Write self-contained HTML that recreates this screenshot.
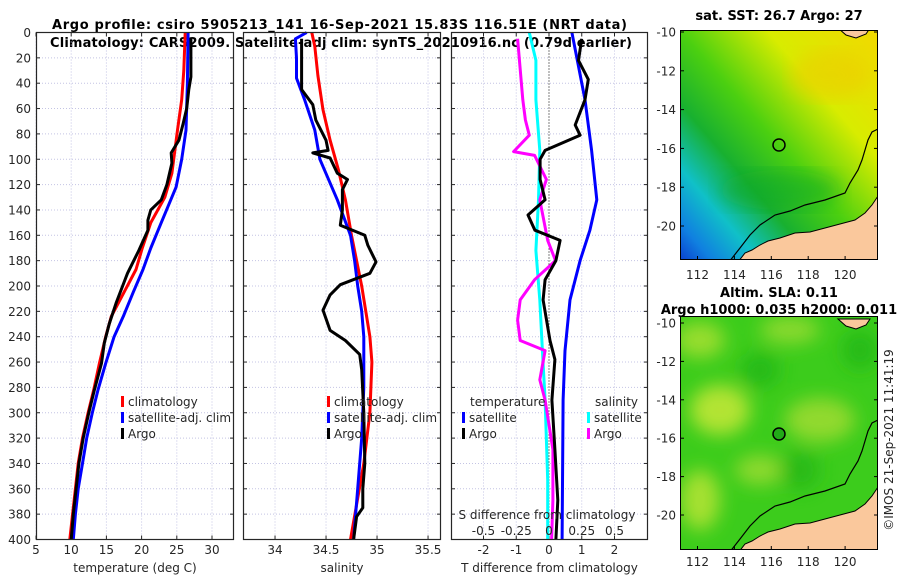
<!DOCTYPE html>
<html><head><meta charset="utf-8"><style>
body{margin:0;background:#fff;}
svg{display:block;font-family:"DejaVu Sans","Liberation Sans",sans-serif;}
.tk{font-size:12px;fill:#262626;}
.tt{font-size:13px;font-weight:bold;fill:#000;}
</style></head><body>
<svg id="c" width="900" height="580" viewBox="0 0 900 580" xmlns="http://www.w3.org/2000/svg">
<defs>
<linearGradient id="sstg" x1="1" y1="0" x2="0" y2="1">
<stop offset="0" stop-color="#f2d800"/><stop offset="0.28" stop-color="#d8ec00"/><stop offset="0.5" stop-color="#4cd010"/><stop offset="0.66" stop-color="#18b030"/><stop offset="0.8" stop-color="#10c0c8"/><stop offset="0.92" stop-color="#1080e0"/><stop offset="1" stop-color="#0a40d0"/>
</linearGradient>
<filter id="bl"><feGaussianBlur stdDeviation="9"/></filter>
<clipPath id="m1c"><rect x="680" y="30" width="198" height="230"/></clipPath>
<clipPath id="m2c"><rect x="680" y="316" width="198" height="234"/></clipPath>
</defs>
<text class="tt" x="52" y="29" textLength="575" lengthAdjust="spacing">Argo profile: csiro 5905213_141 16-Sep-2021 15.83S 116.51E (NRT data)</text>
<text class="tt" x="50" y="47" textLength="582" lengthAdjust="spacing">Climatology: CARS2009. Satellite-adj clim: synTS_20210916.nc (0.79d earlier)</text>
<g id="plots"></g>
<g>
<text class="tt" x="779" y="20" text-anchor="middle">sat. SST: 26.7 Argo: 27</text>
<g clip-path="url(#m1c)">
<rect x="680" y="30" width="198" height="230" fill="url(#sstg)"/>
<ellipse cx="830" cy="75" rx="40" ry="25" fill="#f0c800" opacity="0.5" filter="url(#bl)"/>
<ellipse cx="780" cy="190" rx="60" ry="20" fill="#10a828" opacity="0.5" filter="url(#bl)"/>
<g id="land1"></g>
</g>
<circle cx="779" cy="145" r="6" fill="none" stroke="#000" stroke-width="1.5"/>
<rect x="680.5" y="30.5" width="197" height="229" fill="none" stroke="#000"/>
</g>
<g>
<text class="tt" x="779" y="297" text-anchor="middle">Altim. SLA: 0.11</text>
<text class="tt" x="779" y="314" text-anchor="middle">Argo h1000: 0.035 h2000: 0.011</text>
<g clip-path="url(#m2c)">
<rect x="680" y="316" width="198" height="234" fill="#3ccc1c"/>
<g filter="url(#bl)" opacity="0.85">
<ellipse cx="700" cy="340" rx="25" ry="18" fill="#a8e030"/>
<ellipse cx="790" cy="330" rx="30" ry="14" fill="#98dc30"/>
<ellipse cx="720" cy="410" rx="30" ry="25" fill="#c8e838"/>
<ellipse cx="820" cy="420" rx="35" ry="22" fill="#a0dc30"/>
<ellipse cx="700" cy="500" rx="20" ry="30" fill="#b8e434"/>
<ellipse cx="760" cy="470" rx="25" ry="15" fill="#9cdc30"/>
<ellipse cx="760" cy="370" rx="20" ry="18" fill="#22b818"/>
<ellipse cx="860" cy="350" rx="18" ry="20" fill="#22b818"/>
<ellipse cx="800" cy="470" rx="20" ry="20" fill="#28b818"/>
</g>
<g id="land2" transform="translate(0,291)"></g>
</g>
<circle cx="779" cy="434" r="6" fill="#22aa18" stroke="#000" stroke-width="1.5"/>
<rect x="680.5" y="316.5" width="197" height="233" fill="none" stroke="#000"/>
</g>
<g id="mapticks"></g>
<text class="tk" transform="translate(893,440) rotate(-90)" text-anchor="middle">©IMOS 21-Sep-2021 11:41:19</text>
</svg>
<script>
const climDepth=[0,30,53,77,111,130,150,170,187,205,224,240,261,282,300,320,340,360,380,400];
const climTemp=[26.2,26.0,25.7,25.1,24.3,23.3,21.3,20.1,19.2,17.5,15.7,14.9,14.0,13.2,12.4,11.6,11.0,10.6,10.2,9.8];
const satDepth=[0,40,77,100,122,150,170,187,205,224,240,261,282,300,320,340,360,380,400];
const satTemp=[26.6,26.5,26.3,25.7,24.9,22.8,21.3,20.2,18.8,17.4,16.1,14.9,13.8,13.0,12.2,11.6,11.0,10.6,10.3];
const argoTDepth=[4,35,45,60,72,85,95,103,120,132,140,148,156,172,190,213,230,245,261,282,300,320,340,360,380,400];
const argoTemp=[27.0,27.0,26.7,26.4,25.9,25.3,24.2,24.3,23.6,22.8,21.3,20.9,20.9,19.6,18.0,16.4,15.4,14.7,14.3,13.3,12.5,11.7,11.1,10.7,10.3,10.0];
const climSDepth=[0,11,34,61,85,108,132,160,200,240,260,300,340,400];
const climSal=[34.36,34.39,34.42,34.47,34.54,34.62,34.69,34.75,34.85,34.93,34.95,34.93,34.87,34.74];
const satSDepth=[0,5,20,36,53,77,100,132,160,180,200,220,240,280,320,360,400];
const satSal=[34.31,34.2,34.21,34.21,34.29,34.39,34.44,34.61,34.74,34.78,34.81,34.85,34.87,34.87,34.85,34.81,34.77];
const argoSDepth=[5,36,45,57,69,85,93,95,99,111,116,124,140,152,160,168,181,190,199,207,219,235,243,254,266,300,340,360,375,382,400];
const argoSal=[34.26,34.26,34.26,34.37,34.4,34.5,34.52,34.37,34.54,34.61,34.71,34.66,34.66,34.64,34.88,34.91,34.99,34.93,34.64,34.54,34.47,34.54,34.69,34.83,34.85,34.87,34.88,34.86,34.86,34.80,34.77];
const dTSatDepth=[0,53,93,132,156,180,211,251,290,400];
const dTSat=[0.7,1.1,1.3,1.46,1.25,0.95,0.64,0.49,0.43,0.4];
const dTArgoDepth=[5,22,37,53,73,81,93,100,116,132,144,156,164,180,195,211,243,258,290,329,369,400];
const dTArgo=[1.0,0.9,1.2,1.1,0.8,0.95,-0.12,-0.27,-0.27,-0.12,-0.64,-0.43,0.34,0.21,-0.12,-0.18,0.03,0.18,0.09,0.18,0.27,0.21];
const dSSatDepth=[0,22,53,93,132,172,211,251,290,353,400];
const dSSat=[-0.15,-0.1,-0.1,-0.07,-0.08,-0.1,-0.07,-0.05,-0.03,-0.01,-0.01];
const dSArgoDepth=[5,53,69,81,94,97,116,132,164,180,195,211,227,243,251,274,290,329,369,400];
const dSArgo=[-0.24,-0.2,-0.18,-0.15,-0.27,-0.11,-0.02,-0.07,-0.01,0.05,-0.11,-0.22,-0.24,-0.22,-0.03,-0.07,-0.03,0.03,0.03,0.02];
const depthTicks=[0,20,40,60,80,100,120,140,160,180,200,220,240,260,280,300,320,340,360,380,400];
const tempTicks=[5,10,15,20,25,30];
const salTicks=[34,34.5,35,35.5];
const dTTicks=[-2,-1,0,1,2];
const dSTicks=[-0.5,-0.25,0,0.25,0.5];

const NS='http://www.w3.org/2000/svg';
const root=document.getElementById('plots');
function mk(tag,at,parent){const e=document.createElementNS(NS,tag);for(const k in at)e.setAttribute(k,at[k]);(parent||root).appendChild(e);return e;}
const Y0=32.5,Y1=539.5;
const sy=d=>Y0+d*(Y1-Y0)/400;

function panel(name,x0,x1,xmin,xmax,ticks,labelFmt,title,showY){
  const g=mk('g',{});
  
  
  const sx=v=>x0+(v-xmin)/(xmax-xmin)*(x1-x0);
  ticks.forEach(t=>{const x=sx(t);
    const l=mk('line',{x1:x,x2:x,y1:Y0,y2:Y1,stroke:'#c4c4e4','stroke-dasharray':'1,2','stroke-width':1},g);
    
    mk('line',{x1:x,x2:x,y1:Y1,y2:Y1-4,stroke:'#262626'},g);
    mk('line',{x1:x,x2:x,y1:Y0,y2:Y0+4,stroke:'#262626'},g);
    const tx=mk('text',{x:x,y:554,'text-anchor':'middle',class:'tk'},g);tx.textContent=labelFmt(t);
    
  });
  depthTicks.forEach(d=>{const y=sy(d);
    mk('line',{x1:x0,x2:x1,y1:y,y2:y,stroke:'#c4c4e4','stroke-dasharray':'1,2'},g);
    mk('line',{x1:x0,x2:x0+4,y1:y,y2:y,stroke:'#262626'},g);
    mk('line',{x1:x1,x2:x1-4,y1:y,y2:y,stroke:'#262626'},g);
    if(showY){const t=mk('text',{x:31,y:y+4.5,'text-anchor':'end',class:'tk'},g);t.textContent=d;
      }
  });
  const ti=mk('text',{x:(x0+x1)/2,y:572,'text-anchor':'middle',class:'tk'},g);ti.textContent=title;
  
  return {g,sx,x0,x1};
}
function series(p,depths,vals,color,name){
  const pts=depths.map((d,i)=>p.sx(vals[i]).toFixed(1)+','+sy(d).toFixed(1)).join(' ');
  const l=mk('polyline',{points:pts,fill:'none',stroke:color,'stroke-width':3,'stroke-linejoin':'round'},p.g);
  
}
function frame(p){const r=mk('rect',{x:p.x0+0.5,y:Y0,width:p.x1-p.x0-1,height:Y1-Y0,fill:'none',stroke:'#262626','stroke-width':1.2},p.g);
  }
function legend(g,x,y,color,label,name){
  const m=mk('rect',{x:x,y:y-10,width:3,height:11,fill:color},g);
  
  const t=mk('text',{x:x+7,y:y,class:'tk'},g);t.textContent=label;
  
}

const p1=panel('temperature-panel',36,234,5,33.125,tempTicks,t=>t,'temperature (deg C)',true);
series(p1,climDepth,climTemp,'#ff0000','temp-climatology-line');
series(p1,satDepth,satTemp,'#0000ff','temp-satellite-line');
series(p1,argoTDepth,argoTemp,'#000000','temp-argo-line');
frame(p1);
legend(p1.g,121,406,'#ff0000','climatology','legend-climatology');
legend(p1.g,121,422,'#0000ff','satellite-adj. clim','legend-satellite');
legend(p1.g,121,438,'#000000','Argo','legend-argo');

const p2=panel('salinity-panel',243,441,33.686,35.627,salTicks,t=>t,'salinity',false);
series(p2,climSDepth,climSal,'#ff0000','sal-climatology-line');
series(p2,satSDepth,satSal,'#0000ff','sal-satellite-line');
series(p2,argoSDepth,argoSal,'#000000','sal-argo-line');
frame(p2);
legend(p2.g,327,406,'#ff0000','climatology','legend-climatology');
legend(p2.g,327,422,'#0000ff','satellite-adj. clim','legend-satellite');
legend(p2.g,327,438,'#000000','Argo','legend-argo');

const p3=panel('difference-panel',451,648,-2.992,3.023,dTTicks,t=>t,'T difference from climatology',false);
const zl=mk('line',{x1:p3.sx(0),x2:p3.sx(0),y1:Y0,y2:Y1,stroke:'#000','stroke-dasharray':'1,2'},p3.g);

const pS={g:p3.g,sx:v=>p3.sx(v*4)};
series(pS,dSSatDepth,dSSat,'#00ffff','sdiff-satellite-line');
series(pS,dSArgoDepth,dSArgo,'#ff00ff','sdiff-argo-line');
series(p3,dTSatDepth,dTSat,'#0000ff','tdiff-satellite-line');
series(p3,dTArgoDepth,dTArgo,'#000000','tdiff-argo-line');
frame(p3);
{const t=mk('text',{x:470,y:406,class:'tk'},p3.g);t.textContent='temperature';}
{const t=mk('text',{x:595,y:406,class:'tk'},p3.g);t.textContent='salinity';}
legend(p3.g,462,422,'#0000ff','satellite','legend-t-satellite');
legend(p3.g,462,438,'#000000','Argo','legend-t-argo');
legend(p3.g,587,422,'#00ffff','satellite','legend-s-satellite');
legend(p3.g,587,438,'#ff00ff','Argo','legend-s-argo');
{const t=mk('text',{x:547,y:519,'text-anchor':'middle',class:'tk'},p3.g);t.textContent='S difference from climatology';}
dSTicks.forEach(v=>{const t=mk('text',{x:pS.sx(v),y:535,'text-anchor':'middle',class:'tk'},p3.g);t.textContent=v;
  });

const landPts=[[738,262],[745,253],[752,250],[760,245],[768,241],[780,238],[795,233],[810,232],[825,228],[840,224],[855,220],[865,213],[872,205],[880,193],[880,262]];
const landTop=[[838,28],[846,35],[856,38],[866,34],[870,28]];
const contour=[[729,262],[740,248],[750,235],[760,225],[775,215],[790,211],[805,205],[825,200],[845,193],[850,183],[858,170],[862,160],[868,140],[872,132],[880,128]];
['land1','land2'].forEach(id=>{
  const g=document.getElementById(id);
  const a=mk('polygon',{points:landPts.map(p=>p.join(',')).join(' '),fill:'#fac89c',stroke:'#000','stroke-width':1},g);
  
  const b=mk('polygon',{points:landTop.map(p=>p.join(',')).join(' '),fill:'#fac89c',stroke:'#000','stroke-width':1},g);
  
  const c=mk('polyline',{points:contour.map(p=>p.join(',')).join(' '),fill:'none',stroke:'#000','stroke-width':1.2},g);
  
});
const mt=document.getElementById('mapticks');
const lonTicks=[112,114,116,118,120];
const latTicks=[-10,-12,-14,-16,-18,-20];
function mapAxes(top,bot,latY0,latScale,lonY){
  lonTicks.forEach(l=>{const x=697.5+(l-112)*18.45;
    mk('line',{x1:x,x2:x,y1:bot,y2:bot-4,stroke:'#000'},mt);
    const t=mk('text',{x:x,y:lonY,'text-anchor':'middle',class:'tk'},mt);t.textContent=l;
    });
  latTicks.forEach(l=>{const y=latY0+(-10-l)*latScale;
    mk('line',{x1:680,x2:684,y1:y,y2:y,stroke:'#000'},mt);
    mk('line',{x1:878,x2:874,y1:y,y2:y,stroke:'#000'},mt);
    const t=mk('text',{x:676,y:y+4.5,'text-anchor':'end',class:'tk'},mt);t.textContent=l;
    });
}
mapAxes(30,260,32,19.4,279);
mapAxes(316,550,323,19.2,566);
</script>
</body></html>
